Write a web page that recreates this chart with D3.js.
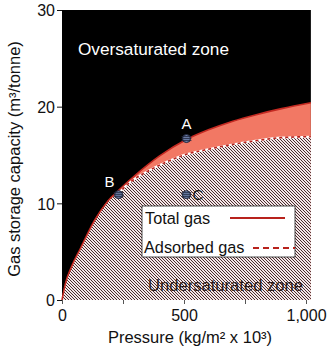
<!DOCTYPE html>
<html>
<head>
<meta charset="utf-8">
<script src="https://cdn.jsdelivr.net/npm/d3@7"></script>
<style>
  body { margin: 0; background: #fff; }
  svg { font-family: "Liberation Sans", Arial, sans-serif; }
</style>
</head>
<body>
<div id="chart"></div>
<script>
// values
const totalPressure = [0, 15, 40, 75, 135, 190, 230, 300, 400, 510, 600, 700, 800, 900, 1020]
const totalGas = [0, 1.8, 3.5, 5.3, 8.3, 10.3, 11.3, 12.9, 14.9, 16.6, 17.6, 18.5, 19.2, 19.8, 20.4]
const adsorbedPressure = [0, 15, 40, 75, 135, 190, 230, 280, 350, 430, 500, 600, 700, 800, 900, 1020]
const adsorbedGas = [0, 1.8, 3.5, 5.3, 8.3, 10.3, 11.0, 12.2, 13.3, 14.3, 15.0, 15.6, 16.1, 16.5, 16.8, 16.9]
const pointNames = ['A', 'B', 'C']
const pointPressure = [510, 232, 510]
const pointGas = [16.7, 10.9, 10.9]
const xTicks = [0, 250, 500, 750, 1000]
const xTickLabels = ['0', '', '500', '', '1,000']
const yTicks = [0, 10, 20, 30]

const width = 332
const height = 362
const padding = { top: 10, right: 21, bottom: 62, left: 62 }
const xMax = 1020

const x = d3.scaleLinear().domain([0, 1000]).range([padding.left, 306])
const y = d3.scaleLinear().domain([0, 30]).range([height - padding.bottom, padding.top])

const svg = d3.select('#chart').append('svg')
    .attr('width', width)
    .attr('height', height)

// stipple pattern for the undersaturated zone
const defs = svg.append('defs')
const pat = defs.append('pattern')
    .attr('id', 'stipple')
    .attr('width', 3)
    .attr('height', 3)
    .attr('patternUnits', 'userSpaceOnUse')
pat.append('rect').attr('width', 3).attr('height', 3).attr('fill', '#f3e6e8')
;[[0, 0], [1, 1], [2, 2]].forEach(p => {
    pat.append('rect').attr('x', p[0]).attr('y', p[1]).attr('width', 1).attr('height', 1).attr('fill', '#4a2c2c')
})

// oversaturated zone
svg.append('rect')
    .attr('x', x(0))
    .attr('y', y(30))
    .attr('width', x(xMax) - x(0))
    .attr('height', y(0) - y(30))
    .attr('fill', '#000')

const total = totalPressure.map((p, i) => [p, totalGas[i]])
const adsorbed = adsorbedPressure.map((p, i) => [p, adsorbedGas[i]])

const area = d3.area()
    .x(d => x(d[0]))
    .y0(y(0))
    .y1(d => y(d[1]))
    .curve(d3.curveMonotoneX)
const line = d3.line()
    .x(d => x(d[0]))
    .y(d => y(d[1]))
    .curve(d3.curveMonotoneX)

svg.append('path').attr('d', area(total)).attr('fill', '#f27864')
svg.append('path').attr('d', area(adsorbed)).attr('fill', 'url(#stipple)')

svg.append('path')
    .attr('d', line(total))
    .attr('fill', 'none')
    .attr('stroke', '#c42a22')
    .attr('stroke-width', 1.6)
svg.append('path')
    .attr('d', line(adsorbed.filter(d => d[0] >= 200)))
    .attr('fill', 'none')
    .attr('stroke', '#fff')
    .attr('stroke-width', 2)
svg.append('path')
    .attr('d', line(adsorbed.filter(d => d[0] >= 200)))
    .attr('fill', 'none')
    .attr('stroke', '#b8221c')
    .attr('stroke-width', 1.6)
    .attr('stroke-dasharray', '3,3')

// labels inside the plot
svg.append('text')
    .attr('x', 78)
    .attr('y', 55)
    .attr('fill', '#fff')
    .attr('font-size', 17.2)
    .text('Oversaturated zone')
svg.append('text')
    .attr('x', 148)
    .attr('y', 291)
    .attr('fill', '#2a1a1a')
    .attr('font-size', 16.6)
    .text('Undersaturated zone')

// points A, B, C
pointNames.forEach((name, i) => {
    const cx = x(pointPressure[i])
    const cy = y(pointGas[i])
    const g = svg.append('g')
    g.append('circle').attr('cx', cx).attr('cy', cy).attr('r', 4)
        .attr('fill', '#6d7fa8').attr('stroke', '#1c2238').attr('stroke-width', 1)
    ;[-2, 0, 2].forEach(dy => {
        g.append('line')
            .attr('x1', cx - 5).attr('x2', cx + 5)
            .attr('y1', cy + dy).attr('y2', cy + dy)
            .attr('stroke', '#1c2238').attr('stroke-width', 0.8)
    })
    const lbl = g.append('text').attr('font-size', 15)
    if (name === 'A') {
        lbl.attr('x', cx).attr('y', cy - 10).attr('text-anchor', 'middle').attr('fill', '#fff')
    } else if (name === 'B') {
        lbl.attr('x', cx - 9).attr('y', cy - 8).attr('text-anchor', 'middle').attr('fill', '#fff')
    } else {
        lbl.attr('x', cx + 6).attr('y', cy + 5).attr('fill', '#1a1a1a')
    }
    lbl.text(name)
})

// legend
const legend = svg.append('g')
legend.append('rect')
    .attr('x', 142).attr('y', 206)
    .attr('width', 153).attr('height', 51)
    .attr('fill', '#fff').attr('stroke', '#222').attr('stroke-width', 0.8)
legend.append('text').attr('x', 145).attr('y', 224).attr('font-size', 16.3).attr('fill', '#111').text('Total gas')
legend.append('line')
    .attr('x1', 230).attr('x2', 285).attr('y1', 218).attr('y2', 218)
    .attr('stroke', '#b8221c').attr('stroke-width', 2)
legend.append('text').attr('x', 144).attr('y', 253).attr('font-size', 16.3).attr('fill', '#111').text('Adsorbed gas')
legend.append('line')
    .attr('x1', 253).attr('x2', 295).attr('y1', 248).attr('y2', 248)
    .attr('stroke', '#b8221c').attr('stroke-width', 2)
    .attr('stroke-dasharray', '6,4')

// axes
const yAxis = svg.append('g')
    .attr('transform', `translate(${padding.left},0)`)
    .call(d3.axisLeft(y).tickValues(yTicks).tickSize(5).tickSizeOuter(0))
yAxis.select('.domain').remove()
yAxis.selectAll('line').attr('stroke', '#111')
yAxis.selectAll('text').attr('font-size', 16).attr('fill', '#111').attr('dx', 1).attr('dy', '0.36em')

const xAxis = svg.append('g')
    .attr('transform', `translate(0,${y(0)})`)
    .call(d3.axisBottom(x).tickValues(xTicks).tickSize(4).tickSizeOuter(0)
        .tickFormat((d, i) => xTickLabels[i]))
xAxis.select('.domain').remove()
xAxis.selectAll('line').attr('stroke', '#555')
xAxis.selectAll('text').attr('font-size', 16).attr('fill', '#111').attr('dy', '0.9em')

svg.append('text')
    .attr('x', 190)
    .attr('y', 343)
    .attr('text-anchor', 'middle')
    .attr('font-size', 16.5)
    .attr('fill', '#111')
    .text('Pressure (kg/m² x 10³)')

svg.append('text')
    .attr('transform', `translate(20,${(y(0) + y(30)) / 2 + 4}) rotate(-90)`)
    .attr('text-anchor', 'middle')
    .attr('font-size', 16.5)
    .attr('fill', '#111')
    .text('Gas storage capacity (m³/tonne)')
</script>
</body>
</html>
